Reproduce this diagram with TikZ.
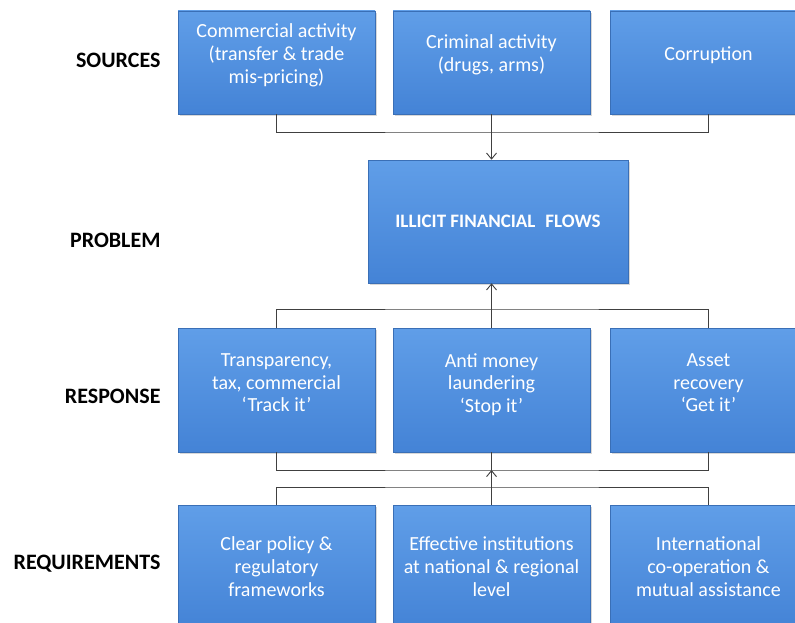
\documentclass[tikz,border=0pt]{standalone}
\usepackage{fontspec}
\setmainfont{Carlito}
\usetikzlibrary{arrows.meta,shadows}
\definecolor{boxtop}{RGB}{96,158,232}
\definecolor{boxbot}{RGB}{68,131,214}
\definecolor{linegray}{RGB}{64,64,64}
\tikzset{
  blk/.style={rectangle, top color=boxtop, bottom color=boxbot, draw=boxbot!85!black, line width=0.6pt,
    text=white, align=center, minimum width=197pt, minimum height=124pt, inner sep=0pt,
    font=\fontsize{20}{23}\selectfont,
    drop shadow={opacity=0.3, shadow xshift=1.5pt, shadow yshift=-2pt}},
  rowlbl/.style={anchor=east, font=\bfseries\fontsize{22}{24}\selectfont},
  conn/.style={draw=linegray, line width=0.9pt},
  tip/.style={conn, -{Straight Barb[length=6pt,width=10pt]}}
}
\begin{document}
\begin{tikzpicture}[x=1pt,y=-1pt]
  \useasboundingbox[fill=white] (0,0) rectangle (795,623);

  \node[rowlbl] (lsrc) at (164,60) {SOURCES};
  \node[rowlbl] (lprob) at (164,240) {PROBLEM};
  \node[rowlbl] (lresp) at (164,396) {RESPONSE};
  \node[rowlbl] (lreq) at (164,564) {REQUIREMENTS};

  \node[blk, minimum height=103pt, text depth=18pt] (src1) at (276.5,62.5) {Commercial activity\\(transfer \& trade\\mis-pricing)};
  \node[blk, minimum height=103pt, text depth=18pt] (src2) at (491.5,62.5) {Criminal activity\\(drugs, arms)};
  \node[blk, minimum height=103pt, text depth=18pt] (src3) at (708.5,62.5) {Corruption};

  \node[blk, minimum width=260pt, minimum height=123pt, font=\bfseries\fontsize{19}{23}\selectfont] (flows) at (498,221.5) {ILLICIT FINANCIAL\hspace{0.3em} FLOWS};

  \node[blk, text depth=14pt, font=\fontsize{20}{22.5}\selectfont] (resp1) at (276.5,390) {Transparency,\\tax, commercial\\`Track it'};
  \node[blk, text depth=14pt, font=\fontsize{20}{22.5}\selectfont] (resp2) at (491.5,390) {Anti money\\laundering\\`Stop it'};
  \node[blk, text depth=14pt, font=\fontsize{20}{22.5}\selectfont] (resp3) at (708.5,390) {Asset\\recovery\\`Get it'};

  \node[blk] (req1) at (276.5,567) {Clear policy \&\\regulatory\\frameworks};
  \node[blk] (req2) at (491.5,567) {Effective institutions\\at national \& regional\\level};
  \node[blk] (req3) at (708.5,567) {International\\co-operation \&\\mutual assistance};

  \coordinate (stop) at (491.5,132);
  \coordinate (rtop) at (491.5,309);
  \coordinate (rbot) at (491.5,470);
  \coordinate (qtop) at (491.5,487);

  \draw[conn] (src1.south) |- (stop) -| (src3.south);
  \draw[tip] (src2.south) -- (src2.south |- flows.north);

  \draw[conn] (resp1.north) |- (rtop) -| (resp3.north);
  \draw[tip] (resp2.north) -- (resp2.north |- flows.south);

  \draw[conn] (resp1.south) |- (rbot) -| (resp3.south);
  \draw[conn] (resp2.south) -- (rbot);
  \draw[conn] (req1.north) |- (qtop) -| (req3.north);
  \draw[tip] (req2.north) -- (rbot);
\end{tikzpicture}
\end{document}
